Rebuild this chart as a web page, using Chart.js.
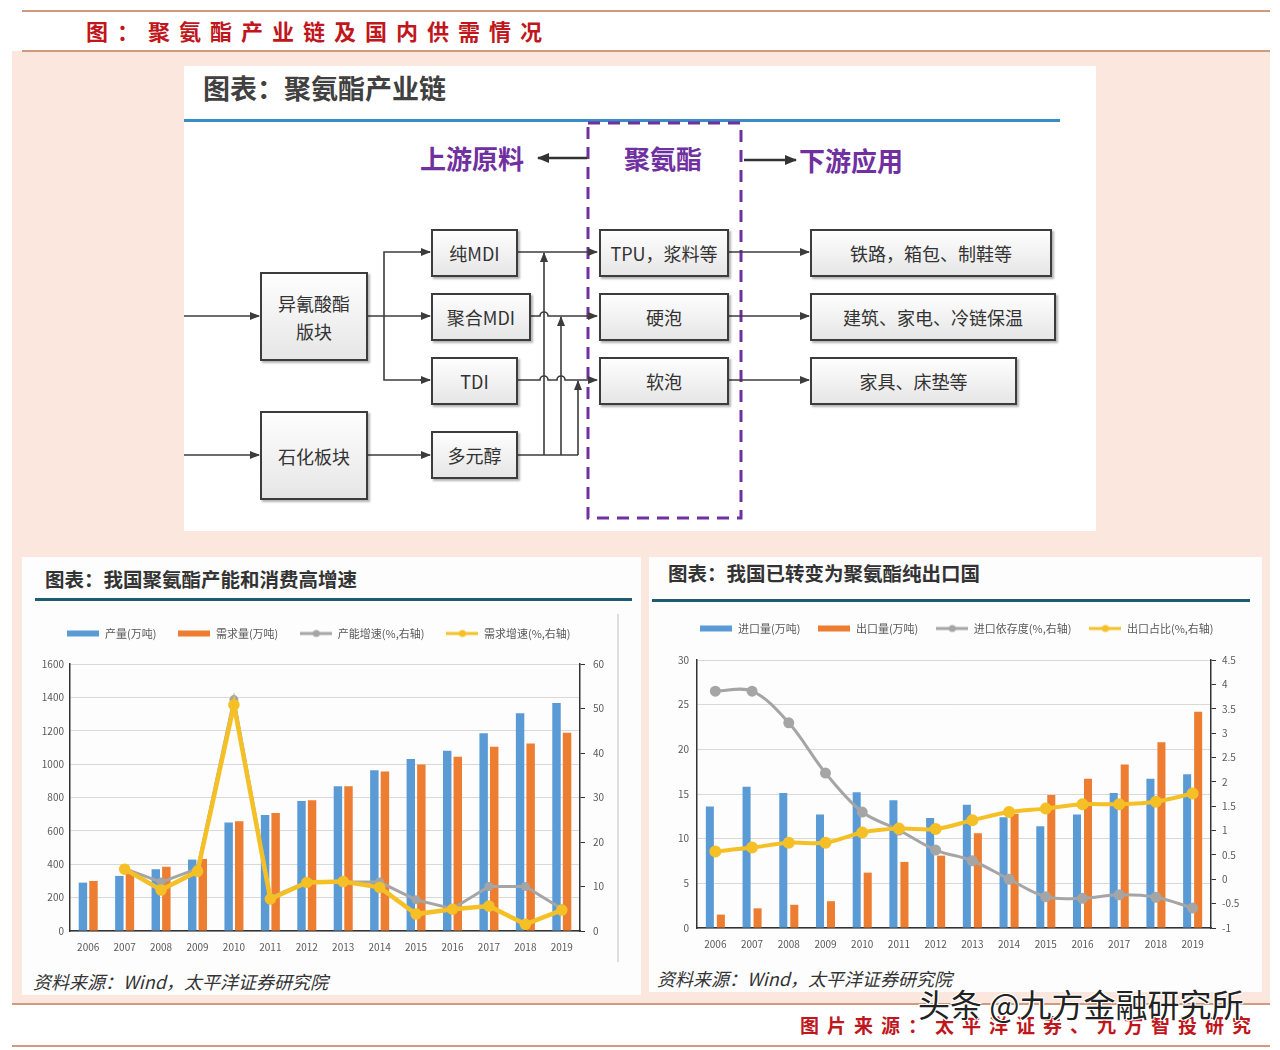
<!DOCTYPE html>
<html lang="zh">
<head>
<meta charset="utf-8">
<title>聚氨酯产业链及国内供需情况</title>
<script src="https://cdn.jsdelivr.net/npm/chart.js@4.4.1/dist/chart.umd.min.js"></script>
<style>
body{margin:0;width:1280px;height:1050px;position:relative;background:#fff;font-family:"Noto Sans CJK SC","Noto Sans",sans-serif;overflow:hidden}
.abs{position:absolute}
.hline{position:absolute;height:2px;background:#cf9a80}
.peach{left:12px;top:51px;width:1258px;height:952px;background:#fbe7de}
.title{left:86px;top:12px;color:#c0161c;font-size:22px;font-weight:bold;letter-spacing:9px;line-height:36px}
.panel{background:#fdfdfe}
.ptitle{font-weight:bold;color:#333;white-space:nowrap}
.box{position:absolute;display:flex;align-items:center;justify-content:center;text-align:center;
  background:linear-gradient(#fefefe,#e6e6e6);border:2px solid #3c3c3c;box-shadow:2px 2px 2px rgba(0,0,0,.3);
  font-size:18px;color:#333;line-height:28px;box-sizing:border-box}
.head{position:absolute;color:#7030a0;font-weight:bold;font-size:26px;line-height:32px;white-space:nowrap}
.src{font-style:italic;font-size:18px;color:#333;white-space:nowrap}
.foot{left:800px;top:1010px;color:#c0161c;font-size:19px;font-weight:bold;letter-spacing:8px;line-height:30px;white-space:nowrap}
.mark{left:918px;top:980px;font-size:32px;color:#222;white-space:nowrap;
  text-shadow:-1px -1px 0 #fff,1px -1px 0 #fff,-1px 1px 0 #fff,1px 1px 0 #fff}
</style>
</head>
<body>
<div class="hline" style="left:22px;top:10px;width:1248px"></div>
<div class="abs peach"></div>
<div class="hline" style="left:22px;top:50px;width:1248px"></div>
<div class="abs title">图：聚氨酯产业链及国内供需情况</div>

<!-- 产业链 -->
<div class="abs panel" style="left:184px;top:66px;width:912px;height:465px;background:#fff"></div>
<div class="abs ptitle" style="left:203px;top:68px;font-size:27px;color:#404040">图表：聚氨酯产业链</div>
<div class="abs" style="left:184px;top:119px;width:876px;height:3px;background:#3a8cc4"></div>

<svg class="abs" style="left:0;top:0" width="1280" height="560">
  <defs>
    <marker id="ah" markerWidth="10" markerHeight="10" refX="9" refY="5" orient="auto" markerUnits="userSpaceOnUse">
      <path d="M0,1 L10,5 L0,9 Z" fill="#3c3c3c"/>
    </marker>
    <marker id="ahb" markerWidth="12" markerHeight="12" refX="11" refY="6" orient="auto" markerUnits="userSpaceOnUse">
      <path d="M0,1 L12,6 L0,11 Z" fill="#333"/>
    </marker>
  </defs>
  <rect x="588" y="123" width="153" height="395" fill="none" stroke="#7030a0" stroke-width="3" stroke-dasharray="12,8"/>
  <g stroke="#333" stroke-width="2.5" fill="none">
    <line x1="587" y1="158" x2="538" y2="158" marker-end="url(#ahb)"/>
    <line x1="744" y1="160" x2="796" y2="160" marker-end="url(#ahb)"/>
  </g>
  <g stroke="#3c3c3c" stroke-width="1.6" fill="none">
    <line x1="184" y1="316" x2="259" y2="316" marker-end="url(#ah)"/>
    <line x1="184" y1="455" x2="259" y2="455" marker-end="url(#ah)"/>
    <line x1="368" y1="316" x2="430" y2="316" marker-end="url(#ah)"/>
    <polyline points="430,252 384,252 384,380 430,380"/>
    <line x1="420" y1="252" x2="430" y2="252" marker-end="url(#ah)"/>
    <line x1="420" y1="380" x2="430" y2="380" marker-end="url(#ah)"/>
    <line x1="368" y1="455" x2="430" y2="455" marker-end="url(#ah)"/>
    <line x1="518" y1="252" x2="597" y2="252" marker-end="url(#ah)"/>
    <path d="M531,316 L540,316 A4,4 0 0 1 548,316 L597,316" marker-end="url(#ah)"/>
    <path d="M518,380 L540,380 A4,4 0 0 1 548,380 L557,380 A4,4 0 0 1 565,380 L597,380" marker-end="url(#ah)"/>
    <polyline points="518,455 578,455"/>
    <line x1="544" y1="455" x2="544" y2="253" marker-end="url(#ah)"/>
    <line x1="561" y1="455" x2="561" y2="317" marker-end="url(#ah)"/>
    <line x1="578" y1="455" x2="578" y2="381" marker-end="url(#ah)"/>
    <line x1="729" y1="252" x2="809" y2="252" marker-end="url(#ah)"/>
    <line x1="729" y1="316" x2="809" y2="316" marker-end="url(#ah)"/>
    <line x1="729" y1="380" x2="809" y2="380" marker-end="url(#ah)"/>
  </g>
</svg>

<div class="head" style="left:420px;top:142px">上游原料</div>
<div class="head" style="left:624px;top:142px">聚氨酯</div>
<div class="head" style="left:799px;top:144px">下游应用</div>

<div class="box" style="left:260px;top:272px;width:108px;height:89px">异氰酸酯<br>版块</div>
<div class="box" style="left:260px;top:411px;width:108px;height:89px">石化板块</div>
<div class="box" style="left:431px;top:229px;width:87px;height:48px">纯MDI</div>
<div class="box" style="left:431px;top:293px;width:100px;height:48px">聚合MDI</div>
<div class="box" style="left:431px;top:357px;width:87px;height:48px">TDI</div>
<div class="box" style="left:431px;top:431px;width:87px;height:48px">多元醇</div>
<div class="box" style="left:599px;top:229px;width:130px;height:48px">TPU，浆料等</div>
<div class="box" style="left:599px;top:293px;width:130px;height:48px">硬泡</div>
<div class="box" style="left:599px;top:357px;width:130px;height:48px">软泡</div>
<div class="box" style="left:810px;top:229px;width:242px;height:48px">铁路，箱包、制鞋等</div>
<div class="box" style="left:810px;top:293px;width:246px;height:48px">建筑、家电、冷链保温</div>
<div class="box" style="left:810px;top:357px;width:207px;height:48px">家具、床垫等</div>

<!-- 左下 -->
<div class="abs panel" style="left:22px;top:557px;width:619px;height:438px"></div>
<div class="abs ptitle" style="left:45px;top:564px;font-size:19.5px">图表：我国聚氨酯产能和消费高增速</div>
<div class="abs" style="left:35px;top:598px;width:597px;height:3px;background:#1f5c73"></div>
<div class="abs" style="left:617px;top:614px;width:2px;height:348px;background:#dedede"></div>
<div class="abs" style="left:22px;top:606px;width:594px;height:351px"><canvas id="c1"></canvas></div>
<div class="abs src" style="left:33px;top:968px">资料来源：Wind，太平洋证券研究院</div>

<!-- 右下 -->
<div class="abs panel" style="left:649px;top:557px;width:613px;height:435px"></div>
<div class="abs ptitle" style="left:668px;top:558px;font-size:19.5px">图表：我国已转变为聚氨酯纯出口国</div>
<div class="abs" style="left:652px;top:599px;width:598px;height:3px;background:#1f5c73"></div>
<div class="abs" style="left:652px;top:605px;width:610px;height:349px"><canvas id="c2"></canvas></div>
<div class="abs src" style="left:657px;top:965px">资料来源：Wind，太平洋证券研究院</div>

<div class="hline" style="left:12px;top:1003px;width:1258px"></div>
<div class="abs foot">图片来源：太平洋证券、九方智投研究</div>
<div class="hline" style="left:12px;top:1045px;width:1258px"></div>
<div class="abs mark">头条 @九方金融研究所</div>

<script>
const years = ['2006','2007','2008','2009','2010','2011','2012','2013','2014','2015','2016','2017','2018','2019'];

// 左图：产量 / 需求量（万吨），增速（%，右轴）
const output = [290, 330, 370, 428, 650, 695, 779, 867, 964, 1030, 1080, 1185, 1305, 1366];
const demand = [300, 355, 385, 432, 657, 707, 783, 867, 956, 998, 1044, 1104, 1124, 1188];
const capGrowth = [null, 14, 11, 14, 52, 7.5, 11, 11, 11, 7, 5, 10, 10, 5];
const demGrowth = [null, 13.9, 9.2, 13.4, 50.8, 7.2, 10.9, 11.1, 9.8, 3.8, 4.9, 5.6, 1.5, 4.7];

// 右图：进口量 / 出口量（万吨），依存度 / 占比（右轴）
const imports = [13.6, 15.8, 15.1, 12.7, 15.2, 14.3, 12.3, 13.8, 12.4, 11.4, 12.7, 15.1, 16.7, 17.2];
const exports = [1.5, 2.2, 2.6, 3.0, 6.2, 7.4, 8.1, 10.6, 12.8, 14.9, 16.7, 18.3, 20.8, 24.2];
const importDep = [3.86, 3.86, 3.21, 2.18, 1.38, 1.01, 0.6, 0.38, 0.0, -0.36, -0.39, -0.32, -0.37, -0.59];
const exportShare = [0.57, 0.65, 0.75, 0.75, 0.96, 1.04, 1.03, 1.21, 1.38, 1.45, 1.54, 1.54, 1.59, 1.76];

const BLUE = '#5b9bd5', ORANGE = '#ed7d31', GREY = '#a5a5a5', GOLD = '#f5c026';
const tickFont = {family:'"Noto Sans CJK SC", sans-serif', size:10};
const plain = v => String(v);

function legendIcon(color, kind) {
  const c = document.createElement('canvas');
  c.width = 32; c.height = 10;
  const g = c.getContext('2d');
  if (kind === 'bar') {
    g.fillStyle = color; g.fillRect(0, 2, 32, 6);
  } else {
    g.strokeStyle = color; g.lineWidth = 3;
    g.beginPath(); g.moveTo(0, 5); g.lineTo(32, 5); g.stroke();
    g.fillStyle = color; g.beginPath(); g.arc(16, 5, 3.5, 0, Math.PI * 2); g.fill();
  }
  return c;
}

const legendGap = gap => ({
  id: 'legendGap',
  beforeInit(chart) {
    const fit = chart.legend.fit;
    chart.legend.fit = function () { fit.call(this); this.height += gap; };
  }
});

function legendOpts(kinds, pad) {
  return {
    position: 'top',
    labels: {
      usePointStyle: true, pointStyleWidth: 32, boxHeight: 10,
      color: '#595959', padding: pad, font: {family:'"Noto Sans CJK SC", sans-serif', size: 11},
      sort: (a, b) => a.datasetIndex - b.datasetIndex,
      generateLabels(chart) {
        return Chart.defaults.plugins.legend.labels.generateLabels(chart).map(l => {
          const ds = chart.data.datasets[l.datasetIndex];
          l.pointStyle = legendIcon(ds.borderColor, kinds[l.datasetIndex]);
          return l;
        });
      }
    }
  };
}

function yAxis(opts, width, right) {
  return Object.assign({
    position: right ? 'right' : 'left',
    afterFit(s) { s.width = width; },
    border: {display: true, color: '#333', width: 1.5},
    grid: right ? {drawOnChartArea: false, tickLength: 5, tickColor: '#333'}
                : {color: '#d9d9d9', tickLength: 0}
  }, opts);
}

const xAxis = {
  grid: {display: false},
  border: {display: true, color: '#333', width: 1.5},
  ticks: {font: tickFont, color: '#595959', maxRotation: 0, autoSkip: false, padding: 2}
};

new Chart(document.getElementById('c1'), {
  type: 'bar',
  data: {
    labels: years,
    datasets: [
      {label: '产量(万吨)', data: output, backgroundColor: BLUE, borderColor: BLUE, order: 2,
       categoryPercentage: 0.58, barPercentage: 0.8},
      {label: '需求量(万吨)', data: demand, backgroundColor: ORANGE, borderColor: ORANGE, order: 2,
       categoryPercentage: 0.58, barPercentage: 0.8},
      {type: 'line', label: '产能增速(%,右轴)', data: capGrowth, yAxisID: 'y1', borderColor: GREY,
       backgroundColor: GREY, borderWidth: 3, pointRadius: 3, tension: 0, order: 1},
      {type: 'line', label: '需求增速(%,右轴)', data: demGrowth, yAxisID: 'y1', borderColor: GOLD,
       backgroundColor: GOLD, borderWidth: 4.5, pointRadius: 3.5, tension: 0, order: 0}
    ]
  },
  options: {
    responsive: true, maintainAspectRatio: false, animation: false,
    layout: {padding: {bottom: 2}},
    plugins: {legend: legendOpts(['bar', 'bar', 'line', 'line'], 22), tooltip: {enabled: false}},
    scales: {
      x: xAxis,
      y: yAxis({min: 0, max: 1600, ticks: {stepSize: 200, callback: plain, font: tickFont, color: '#595959', padding: 6}}, 48, false),
      y1: yAxis({min: 0, max: 60, ticks: {stepSize: 10, callback: plain, font: tickFont, color: '#595959', padding: 8}}, 36, true)
    }
  },
  plugins: [legendGap(15)]
});

new Chart(document.getElementById('c2'), {
  type: 'bar',
  data: {
    labels: years,
    datasets: [
      {label: '进口量(万吨)', data: imports, backgroundColor: BLUE, borderColor: BLUE, order: 2,
       categoryPercentage: 0.6, barPercentage: 0.73},
      {label: '出口量(万吨)', data: exports, backgroundColor: ORANGE, borderColor: ORANGE, order: 2,
       categoryPercentage: 0.6, barPercentage: 0.73},
      {type: 'line', label: '进口依存度(%,右轴)', data: importDep, yAxisID: 'y1', borderColor: GREY,
       backgroundColor: GREY, borderWidth: 3, pointRadius: 4, tension: 0.35, order: 1},
      {type: 'line', label: '出口占比(%,右轴)', data: exportShare, yAxisID: 'y1', borderColor: GOLD,
       backgroundColor: GOLD, borderWidth: 4, pointRadius: 4, tension: 0.3, order: 0}
    ]
  },
  options: {
    responsive: true, maintainAspectRatio: false, animation: false,
    layout: {padding: {bottom: 2}},
    plugins: {legend: legendOpts(['bar', 'bar', 'line', 'line'], 18), tooltip: {enabled: false}},
    scales: {
      x: xAxis,
      y: yAxis({min: 0, max: 30, ticks: {stepSize: 5, callback: plain, font: tickFont, color: '#595959', padding: 8}}, 45, false),
      y1: yAxis({min: -1, max: 4.5, ticks: {stepSize: 0.5, callback: plain, font: tickFont, color: '#595959', padding: 6}}, 51, true)
    }
  },
  plugins: [legendGap(16)]
});
</script>
</body>
</html>
